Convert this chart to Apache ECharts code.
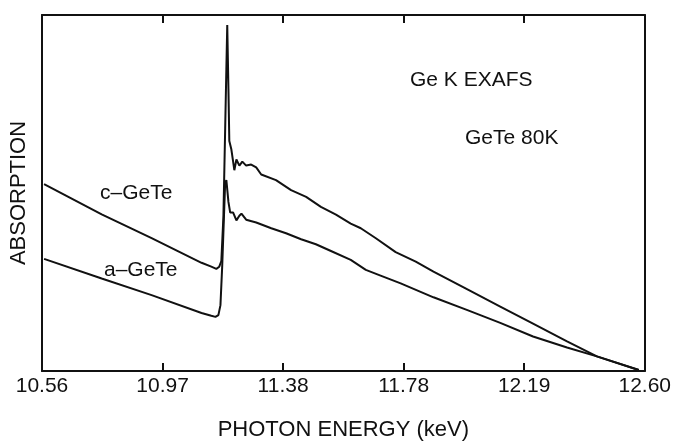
<!DOCTYPE html>
<html>
<head>
<meta charset="utf-8">
<script src="https://cdn.jsdelivr.net/npm/echarts@6/dist/echarts.min.js"></script>
<style>
  html, body { margin: 0; padding: 0; background: #fff; }
  #chart { width: 674px; height: 446px; }
</style>
</head>
<body>
<div id="chart"></div>
<script>
// photon energy (keV) tick positions
const tickValues = [10.56, 10.968, 11.376, 11.784, 12.192, 12.60]

// c-GeTe absorption (arbitrary units) vs energy
const cEnergy = [10.567, 10.762, 10.931, 11.100, 11.133, 11.150, 11.160, 11.167, 11.174, 11.180,
  11.184, 11.187, 11.191, 11.194, 11.201, 11.211, 11.218, 11.228, 11.238, 11.251,
  11.268, 11.285, 11.302, 11.352, 11.403, 11.454, 11.504, 11.555, 11.605, 11.639,
  11.690, 11.757, 11.825, 11.885, 12.000, 12.111, 12.222, 12.337, 12.438, 12.580]
const cAbs = [52.5, 44.0, 37.3, 30.4, 29.3, 28.7, 29.3, 30.9, 43.4, 68.2,
  84.8, 97.2, 79.3, 64.6, 62.2, 56.4, 59.4, 57.7, 58.8, 57.7,
  58.0, 57.2, 55.2, 53.6, 50.8, 48.9, 46.1, 43.9, 41.4, 40.1,
  37.3, 33.4, 30.7, 27.9, 22.9, 18.1, 13.3, 8.3, 4.1, 0.3]

// a-GeTe absorption (arbitrary units) vs energy
const aEnergy = [10.567, 10.762, 10.931, 11.100, 11.133, 11.147, 11.157, 11.164, 11.170, 11.177,
  11.180, 11.184, 11.191, 11.197, 11.207, 11.218, 11.228, 11.235, 11.251, 11.285,
  11.336, 11.386, 11.437, 11.487, 11.538, 11.605, 11.656, 11.706, 11.774, 11.885,
  12.000, 12.111, 12.222, 12.337, 12.438, 12.580]
const aAbs = [31.5, 26.0, 21.3, 16.3, 15.5, 15.2, 15.7, 18.5, 29.6, 46.1,
  53.0, 53.6, 47.5, 44.5, 44.5, 42.3, 43.6, 44.2, 42.5, 41.7,
  40.1, 38.7, 37.0, 35.6, 33.7, 31.2, 28.4, 26.8, 24.6, 20.7,
  17.1, 13.5, 9.7, 6.6, 4.1, 0.3]

const zip = (xs, ys) => xs.map((x, i) => [x, ys[i]])

const font = 'Liberation Sans'

const options = {
  backgroundColor: '#fff',
  animation: false,
  grid: { left: 40, right: 29, top: 15, bottom: 69 },
  xAxis: [
    {
      type: 'value',
      min: 10.56,
      max: 12.6,
      position: 'bottom',
      name: 'PHOTON ENERGY (keV)',
      nameLocation: 'middle',
      nameGap: 48,
      nameTextStyle: { color: '#111', fontFamily: font, fontSize: 22 },
      axisLine: { onZero: false, lineStyle: { color: '#111', width: 2 } },
      axisTick: { inside: true, length: 8, customValues: tickValues, lineStyle: { color: '#111', width: 2 } },
      axisLabel: {
        customValues: tickValues,
        formatter: v => v.toFixed(2),
        color: '#111',
        fontFamily: font,
        fontSize: 21,
        margin: 5,
      },
      splitLine: { show: false },
    },
    {
      type: 'value',
      min: 10.56,
      max: 12.6,
      position: 'top',
      axisLine: { onZero: false, lineStyle: { color: '#111', width: 2 } },
      axisTick: { inside: true, length: 8, customValues: tickValues, lineStyle: { color: '#111', width: 2 } },
      axisLabel: { show: false },
      splitLine: { show: false },
    },
  ],
  yAxis: [
    {
      type: 'value',
      min: 0,
      max: 100,
      position: 'left',
      name: 'ABSORPTION',
      nameLocation: 'middle',
      nameGap: 12,
      nameTextStyle: { color: '#111', fontFamily: font, fontSize: 22 },
      axisLine: { show: true, onZero: false, lineStyle: { color: '#111', width: 2 } },
      axisTick: { show: false },
      axisLabel: { show: false },
      splitLine: { show: false },
    },
    {
      type: 'value',
      min: 0,
      max: 100,
      position: 'right',
      axisLine: { show: true, onZero: false, lineStyle: { color: '#111', width: 2 } },
      axisTick: { show: false },
      axisLabel: { show: false },
      splitLine: { show: false },
    },
  ],
  series: [
    {
      name: 'c-GeTe',
      type: 'line',
      data: zip(cEnergy, cAbs),
      symbol: 'none',
      lineStyle: { color: '#111', width: 2 },
    },
    {
      name: 'a-GeTe',
      type: 'line',
      data: zip(aEnergy, aAbs),
      symbol: 'none',
      lineStyle: { color: '#111', width: 2 },
    },
  ],
  graphic: [
    { type: 'text', left: 410, top: 70, style: { text: 'Ge K EXAFS', font: '21px ' + font, fill: '#111' } },
    { type: 'text', left: 465, top: 128, style: { text: 'GeTe 80K', font: '21px ' + font, fill: '#111' } },
    { type: 'text', left: 100, top: 183, style: { text: 'c\u2013GeTe', font: '21px ' + font, fill: '#111' } },
    { type: 'text', left: 104, top: 260, style: { text: 'a\u2013GeTe', font: '21px ' + font, fill: '#111' } },
  ],
}

const chart = echarts.init(document.getElementById('chart'))
chart.setOption(options)
window.onresize = function () {
  chart.resize()
}
</script>
</body>
</html>
